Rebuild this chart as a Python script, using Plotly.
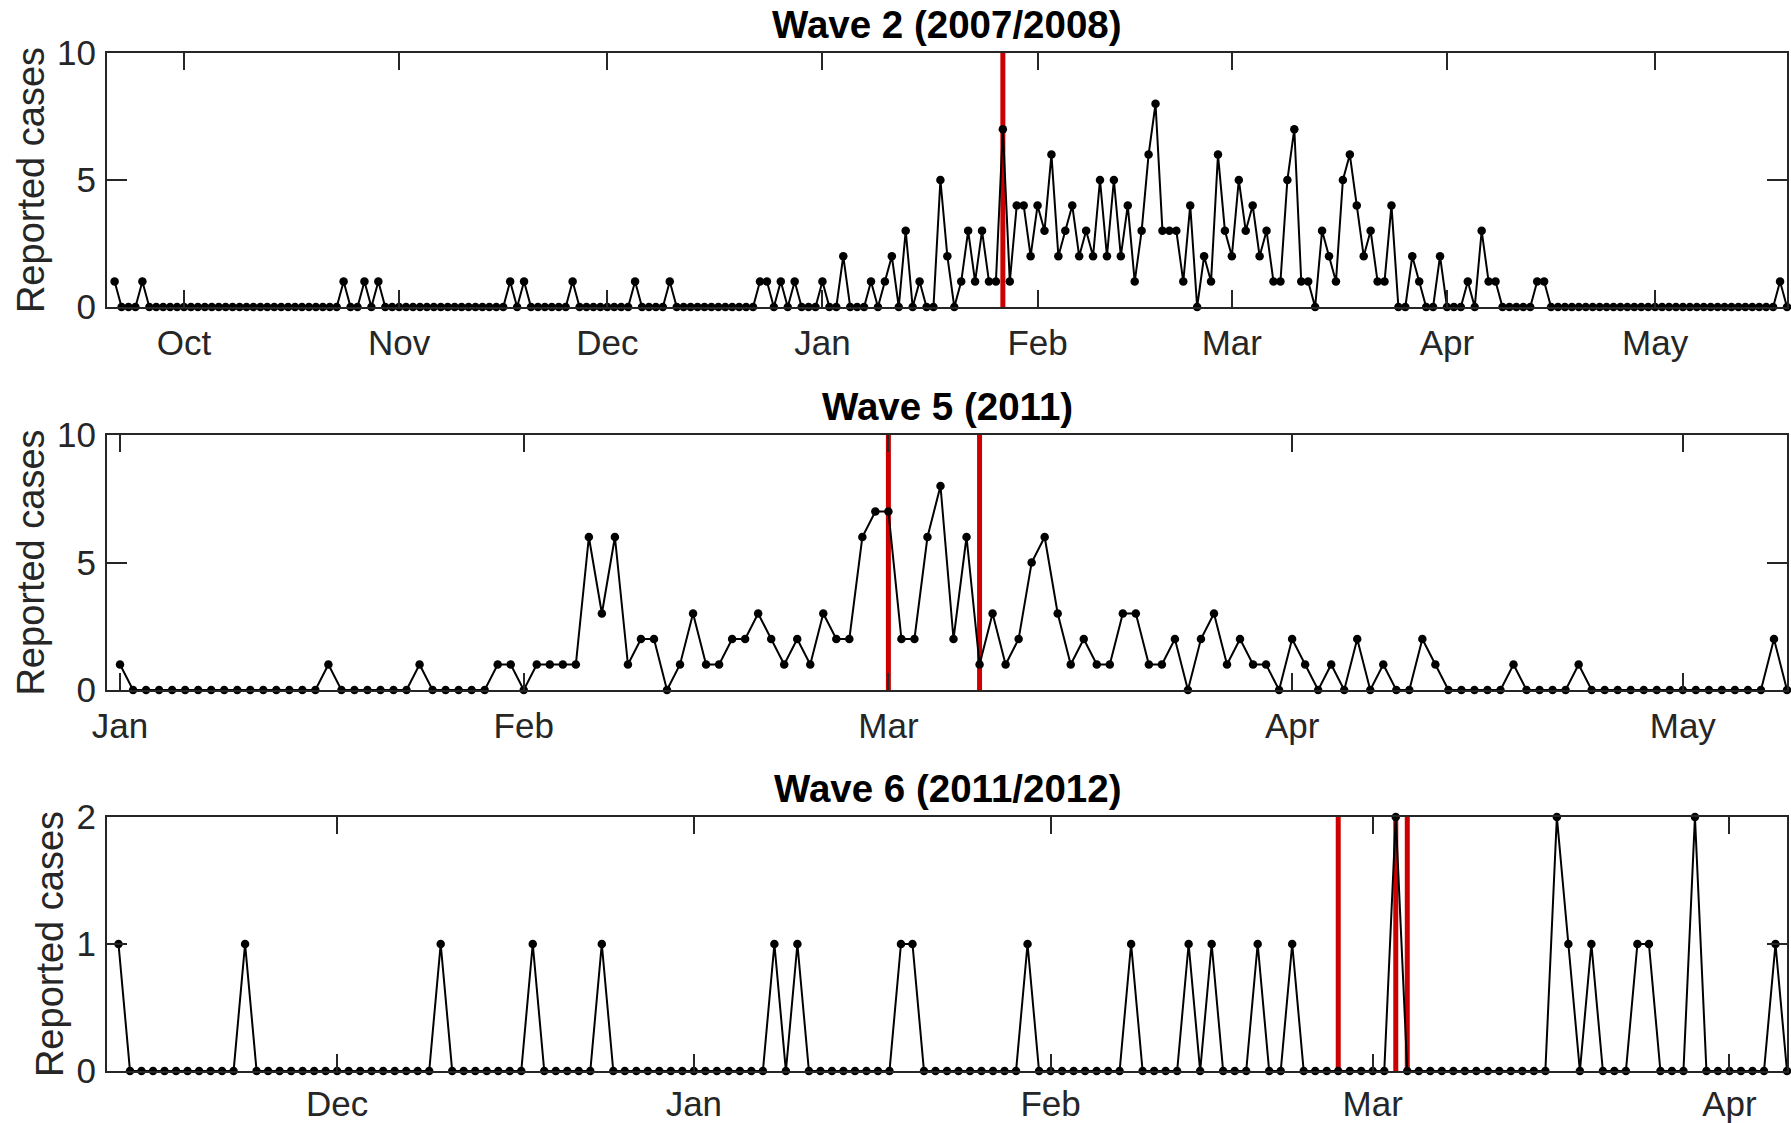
import plotly.graph_objects as go
import numpy as np

W, H = 1791, 1123
FONT = "Liberation Sans"
AX = "#262626"

# ---------------- Wave 2 (2007/2008) ----------------
# day index relative to 1 Oct (axis uses 28-day February)
w2_start = -10
w2_sep = [1, 0, 0, 0, 1, 0, 0, 0, 0, 0]
w2_oct = [0, 0, 0, 0, 0, 0, 0, 0, 0, 0, 0, 0, 0, 0, 0, 0, 0, 0, 0, 0,
          0, 0, 0, 1, 0, 0, 1, 0, 1, 0, 0]
w2_nov = [0, 0, 0, 0, 0, 0, 0, 0, 0, 0, 0, 0, 0, 0, 0, 0, 1, 0, 1, 0,
          0, 0, 0, 0, 0, 1, 0, 0, 0, 0]
w2_dec = [0, 0, 0, 0, 1, 0, 0, 0, 0, 1, 0, 0, 0, 0, 0, 0, 0, 0, 0, 0,
          0, 0, 1, 1, 0, 1, 0, 1, 0, 0, 0]
w2_jan = [1, 0, 0, 2, 0, 0, 0, 1, 0, 1, 2, 0, 3, 0, 1, 0, 0, 5, 2, 0,
          1, 3, 1, 3, 1, 1, 7, 1, 4, 4, 2]
w2_feb = [4, 3, 6, 2, 3, 4, 2, 3, 2, 5, 2, 5, 2, 4, 1, 3, 6, 8, 3, 3,
          3, 1, 4, 0, 2, 1, 6, 3]
w2_mar = [2, 5, 3, 4, 2, 3, 1, 1, 5, 7, 1, 1, 0, 3, 2, 1, 5, 6, 4, 2,
          3, 1, 1, 4, 0, 0, 2, 1, 0, 0, 2]
w2_apr = [0, 0, 0, 1, 0, 3, 1, 1, 0, 0, 0, 0, 0, 1, 1, 0, 0, 0, 0, 0,
          0, 0, 0, 0, 0, 0, 0, 0, 0, 0]
w2_may = [0, 0, 0, 0, 0, 0, 0, 0, 0, 0, 0, 0, 0, 0, 0, 0, 0, 0, 1, 0]
w2_cases = w2_sep + w2_oct + w2_nov + w2_dec + w2_jan + w2_feb + w2_mar + w2_apr + w2_may
w2_tickvals = [0, 31, 61, 92, 123, 151, 182, 212]
w2_ticktext = ["Oct", "Nov", "Dec", "Jan", "Feb", "Mar", "Apr", "May"]
w2_marks = [118]
w2_range = [-11.1, 231]

# ---------------- Wave 5 (2011) ----------------
# day index relative to 1 Jan
w5_start = 0
w5_jan = [1, 0, 0, 0, 0, 0, 0, 0, 0, 0, 0, 0, 0, 0, 0, 0, 1, 0, 0, 0,
          0, 0, 0, 1, 0, 0, 0, 0, 0, 1, 1]
w5_feb = [0, 1, 1, 1, 1, 6, 3, 6, 1, 2, 2, 0, 1, 3, 1, 1, 2, 2, 3, 2,
          1, 2, 1, 3, 2, 2, 6, 7]
w5_mar = [7, 2, 2, 6, 8, 2, 6, 1, 3, 1, 2, 5, 6, 3, 1, 2, 1, 1, 3, 3,
          1, 1, 2, 0, 2, 3, 1, 2, 1, 1, 0]
w5_apr = [2, 1, 0, 1, 0, 2, 0, 1, 0, 0, 2, 1, 0, 0, 0, 0, 0, 1, 0, 0,
          0, 0, 1, 0, 0, 0, 0, 0, 0, 0]
w5_may = [0, 0, 0, 0, 0, 0, 0, 2, 0]
w5_cases = w5_jan + w5_feb + w5_mar + w5_apr + w5_may
w5_tickvals = [0, 31, 59, 90, 120]
w5_ticktext = ["Jan", "Feb", "Mar", "Apr", "May"]
w5_marks = [59, 66]
w5_range = [-1, 128]

# ---------------- Wave 6 (2011/2012) ----------------
# day index relative to 1 Dec
w6_start = -19
w6_nov = [1, 0, 0, 0, 0, 0, 0, 0, 0, 0, 0, 1, 0, 0, 0, 0, 0, 0, 0]
w6_dec = [0, 0, 0, 0, 0, 0, 0, 0, 0, 1, 0, 0, 0, 0, 0, 0, 0, 1, 0, 0,
          0, 0, 0, 1, 0, 0, 0, 0, 0, 0, 0]
w6_jan = [0, 0, 0, 0, 0, 0, 0, 1, 0, 1, 0, 0, 0, 0, 0, 0, 0, 0, 1, 1,
          0, 0, 0, 0, 0, 0, 0, 0, 0, 1, 0]
w6_feb = [0, 0, 0, 0, 0, 0, 0, 1, 0, 0, 0, 0, 1, 0, 1, 0, 0, 0, 1, 0,
          0, 1, 0, 0, 0, 0, 0, 0]
w6_mar = [0, 0, 2, 0, 0, 0, 0, 0, 0, 0, 0, 0, 0, 0, 0, 0, 2, 1, 0, 1,
          0, 0, 0, 1, 1, 0, 0, 0, 2, 0, 0]
w6_apr = [0, 0, 0, 0, 1, 0]
w6_cases = w6_nov + w6_dec + w6_jan + w6_feb + w6_mar + w6_apr
w6_tickvals = [0, 31, 62, 90, 121]
w6_ticktext = ["Dec", "Jan", "Feb", "Mar", "Apr"]
w6_marks = [87, 92, 93]
w6_range = [-20, 126]

titles = ["Wave 2 (2007/2008)", "Wave 5 (2011)", "Wave 6 (2011/2012)"]

panels = [
    dict(start=w2_start, cases=w2_cases, tv=w2_tickvals, tt=w2_ticktext, marks=w2_marks,
         xr=w2_range, yr=[0, 10], ytv=[0, 5, 10], top=53, bot=307, xso=4),
    dict(start=w5_start, cases=w5_cases, tv=w5_tickvals, tt=w5_ticktext, marks=w5_marks,
         xr=w5_range, yr=[0, 10], ytv=[0, 5, 10], top=435, bot=690, xso=4),
    dict(start=w6_start, cases=w6_cases, tv=w6_tickvals, tt=w6_ticktext, marks=w6_marks,
         xr=w6_range, yr=[0, 2], ytv=[0, 1, 2], top=817, bot=1071, xso=1),
]

x_dom = [107 / W, 1787 / W]

fig = go.Figure()
layout = dict(
    width=W, height=H,
    margin=dict(l=0, r=0, t=0, b=0, pad=0),
    paper_bgcolor="white", plot_bgcolor="white",
    showlegend=False,
    font=dict(family=FONT, color=AX, size=35),
)
shapes = []
annotations = []

for i, p in enumerate(panels):
    n = i + 1
    xa = "x" if n == 1 else f"x{n}"
    ya = "y" if n == 1 else f"y{n}"
    xs = np.arange(len(p["cases"])) + p["start"]
    fig.add_trace(go.Scatter(
        x=xs, y=p["cases"], xaxis=xa, yaxis=ya,
        mode="lines+markers",
        line=dict(color="black", width=2),
        marker=dict(color="black", size=8.5),
        cliponaxis=False,
        hoverinfo="skip",
    ))
    y_dom = [1 - p["bot"] / H, 1 - p["top"] / H]
    layout["xaxis" if n == 1 else f"xaxis{n}"] = dict(
        domain=x_dom, anchor=ya, range=p["xr"], automargin=False,
        tickmode="array", tickvals=p["tv"], ticktext=p["tt"],
        ticks="inside", ticklen=17, tickwidth=2, tickcolor=AX,
        showline=True, linecolor=AX, linewidth=2, mirror="ticks",
        showgrid=False, zeroline=False, ticklabelstandoff=p["xso"],
        tickfont=dict(family=FONT, size=35, color=AX),
    )
    layout["yaxis" if n == 1 else f"yaxis{n}"] = dict(
        domain=y_dom, anchor=xa, range=p["yr"], automargin=False,
        tickmode="array", tickvals=p["ytv"],
        ticks="inside", ticklen=20, tickwidth=2, tickcolor=AX,
        showline=True, linecolor=AX, linewidth=2, mirror="ticks",
        showgrid=False, zeroline=False, ticklabelstandoff=2,
        tickfont=dict(family=FONT, size=35, color=AX),
        title=dict(text="Reported cases", font=dict(family=FONT, size=38, color=AX), standoff=1),
    )
    for m in p["marks"]:
        shapes.append(dict(type="line", xref=xa, yref=f"{ya} domain",
                           x0=m, x1=m, y0=0, y1=1,
                           line=dict(color="#CC0000", width=5), layer="below"))
    annotations.append(dict(
        text=f"<b>{titles[i]}</b>", xref="paper", yref="paper",
        x=(x_dom[0] + x_dom[1]) / 2, y=1 - (p["top"] - 29) / H,
        xanchor="center", yanchor="middle", showarrow=False,
        font=dict(family=FONT, size=38.5, color="black"),
    ))

layout["shapes"] = shapes
layout["annotations"] = annotations
fig.update_layout(**layout)
fig.write_html("out.html")
